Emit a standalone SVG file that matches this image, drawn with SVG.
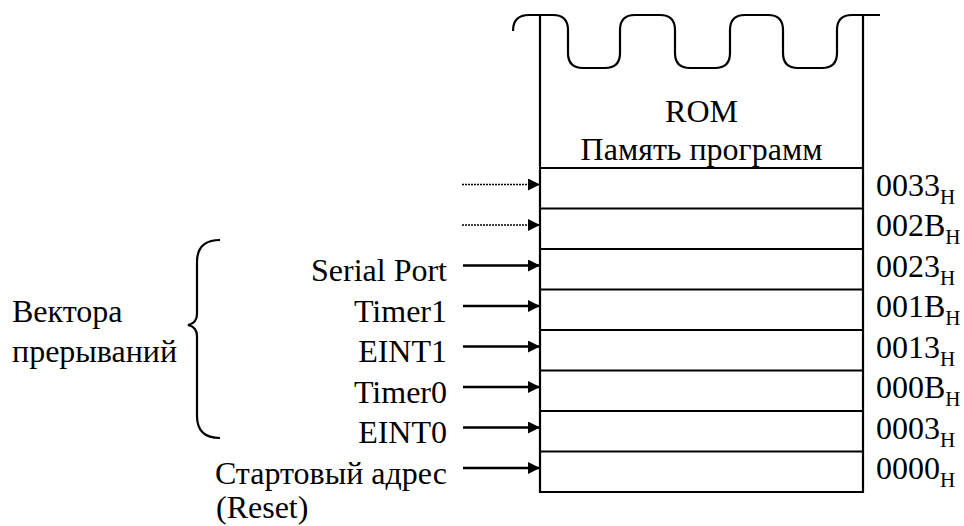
<svg xmlns="http://www.w3.org/2000/svg" width="964" height="526" viewBox="0 0 964 526">
<style>
.t{font-family:Tinos,'Liberation Serif','DejaVu Serif','Noto Serif',FreeSerif,serif;font-size:32px;fill:#000}
.ln{stroke:#000;stroke-width:2.2;fill:none}
.sub{font-size:21px}
.r{text-anchor:end}
.c{text-anchor:middle}
.arr{stroke:#000;stroke-width:2.4;fill:none}
.dot{stroke:#000;stroke-width:1.6;stroke-dasharray:2 1;fill:none}
</style>
<defs>
<marker id="ah" viewBox="0 0 12 12" refX="12" refY="6" markerWidth="12" markerHeight="12" markerUnits="userSpaceOnUse" orient="auto">
<path d="M0,0 L12,6 L0,12 Z" fill="#000"/>
</marker>
</defs>
<rect width="964" height="526" fill="#fff"/>
<g id="rom">
<path class="ln" d="M513,31 Q513,15 529,15 L553,15 Q568,15 568,30 L568,53 Q568,68 583,68 L605,68 Q620,68 620,53 L620,30 Q620,15 635,15 L660,15 Q675,15 675,30 L675,53 Q675,68 690,68 L715,68 Q730,68 730,53 L730,30 Q730,15 745,15 L768,15 Q783,15 783,30 L783,53 Q783,68 798,68 L822,68 Q837,68 837,53 L837,30 Q837,15 852,15 L880,15"/>
<path class="ln" d="M540,15 L540,493 M863,15 L863,493"/>
<path class="ln" d="M540,168 H863 M540,208.5 H863 M540,249 H863 M540,289.5 H863 M540,330 H863 M540,370.5 H863 M540,411 H863 M540,451.5 H863 M539,492 H864"/>
<text class="t c" x="701.5" y="122">ROM</text>
<text class="t c" x="701.5" y="159.5">Память программ</text>
</g>
<g id="addresses">
<text class="t" x="876" y="195.5">0033<tspan class="sub" dy="8">H</tspan></text>
<text class="t" x="876" y="236">002B<tspan class="sub" dy="8">H</tspan></text>
<text class="t" x="876" y="276.5">0023<tspan class="sub" dy="8">H</tspan></text>
<text class="t" x="876" y="317">001B<tspan class="sub" dy="8">H</tspan></text>
<text class="t" x="876" y="357.5">0013<tspan class="sub" dy="8">H</tspan></text>
<text class="t" x="876" y="398">000B<tspan class="sub" dy="8">H</tspan></text>
<text class="t" x="876" y="438.5">0003<tspan class="sub" dy="8">H</tspan></text>
<text class="t" x="876" y="479">0000<tspan class="sub" dy="8">H</tspan></text>
</g>
<g id="sources">
<text class="t r" x="447" y="281">Serial Port</text>
<text class="t r" x="447" y="321.5">Timer1</text>
<text class="t r" x="447" y="362">EINT1</text>
<text class="t r" x="447" y="402.5">Timer0</text>
<text class="t r" x="447" y="443">EINT0</text>
<text class="t r" x="447" y="483.5">Стартовый адрес</text>
<text class="t" x="216" y="518">(Reset)</text>
</g>
<g id="vectors-label">
<path class="ln" d="M220,240 Q197,240 197,262 L197,314 Q197,323 188,325 Q197,327 197,336 L197,416 Q197,438 220,438"/>
<text class="t" x="12" y="321.5">Вектора</text>
<text class="t" x="12" y="362">прерываний</text>
</g>
<g id="connectors">
<path class="dot" d="M462,184.5 H540" marker-end="url(#ah)"/>
<path class="dot" d="M462,225 H540" marker-end="url(#ah)"/>
<path class="arr" d="M463,265.5 H540" marker-end="url(#ah)"/>
<path class="arr" d="M463,306 H540" marker-end="url(#ah)"/>
<path class="arr" d="M463,346.5 H540" marker-end="url(#ah)"/>
<path class="arr" d="M463,387 H540" marker-end="url(#ah)"/>
<path class="arr" d="M463,427.5 H540" marker-end="url(#ah)"/>
<path class="arr" d="M463,468 H540" marker-end="url(#ah)"/>
</g>
</svg>
